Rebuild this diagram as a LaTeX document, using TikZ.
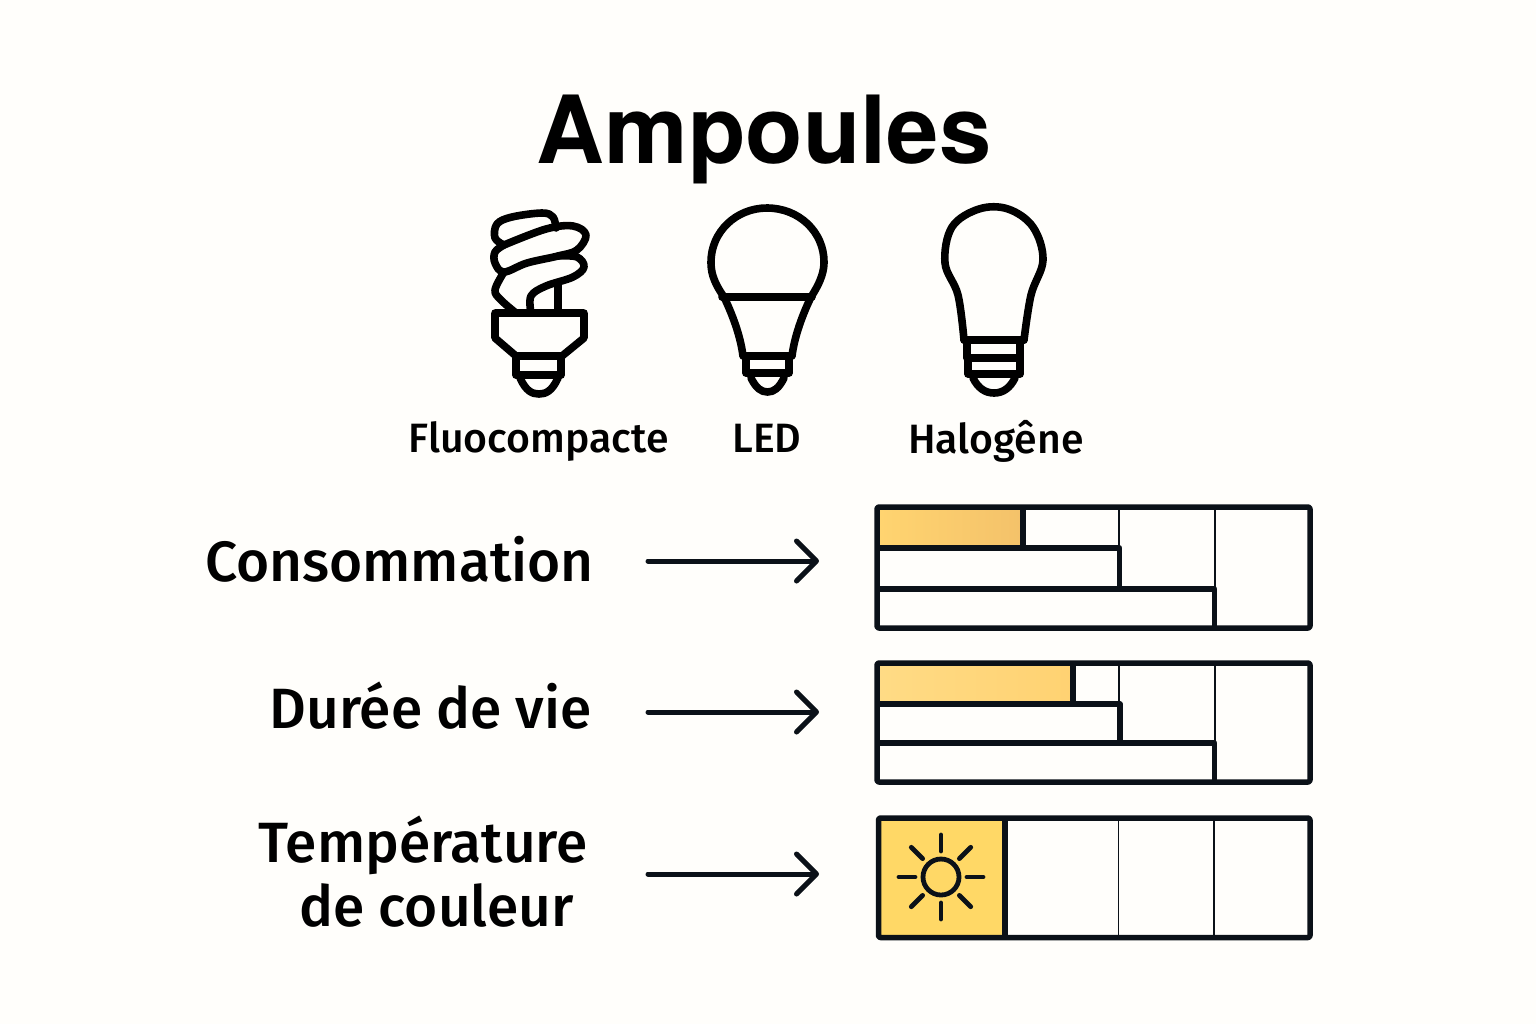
\documentclass[tikz,border=0pt]{standalone}
\usepackage{fontspec}
\setmainfont{TeX Gyre Heros}
\newfontfamily\medfont{Fira Sans Medium}
\usetikzlibrary{arrows.meta}
\definecolor{ink}{HTML}{0B1118}
\definecolor{paper}{HTML}{FFFEFB}
\definecolor{sunfill}{HTML}{FFD866}
\definecolor{amberA}{HTML}{FFD470}
\definecolor{amberB}{HTML}{F4C26A}
\definecolor{amberC}{HTML}{FFDB85}
\definecolor{amberD}{HTML}{FFD272}

\tikzset{
  icon/.style={draw=black, line width=3.8pt, line cap=round, line join=round},
  ray/.style={draw=ink, line width=2.4pt, line cap=round},
  frame/.style={draw=ink, line width=2.75pt, line join=round},
  thin line/.style={draw=ink, line width=0.9pt},
  bulbname/.style={font=\medfont\fontsize{20.5}{22}\selectfont, anchor=base, inner sep=0pt},
  rowname/.style={font=\medfont\fontsize{28.4}{30}\selectfont, anchor=base east, inner sep=0pt},
  pointer/.style={draw=ink, line width=2.5pt, line cap=round, -{Straight Barb[length=10pt,width=20pt,round]}}
}

\begin{document}
\begin{tikzpicture}[x=0.5pt,y=-0.5pt]
  \useasboundingbox[fill=paper] (0,0) rectangle (1536,1024);

  \node[font=\bfseries\fontsize{47}{56}\selectfont, anchor=base] (title) at (764,163) {Ampoules};

  % fluocompacte
  \draw[icon] plot[smooth,tension=.6] coordinates {(556,228) (553,217) (542,213) (512,217) (497,224) (495,238) (504,245)};
  \draw[icon] plot[smooth,tension=.6] coordinates {(504,245) (546,229) (573,226) (586,235) (577,250) (558,256) (527,263) (504,272) (495,263) (495,252) (504,245)};
  \draw[icon] plot[smooth,tension=.6] coordinates {(558,256) (577,257) (584,267) (573,277) (546,286) (531,296) (531,313)};
  \draw[icon] plot[smooth,tension=.6] coordinates {(504,272) (495,290) (501,300) (516,313)};
  \draw[icon] (558,285) -- (558,313);
  \draw[icon] (495,313) -- (584,313) -- (584,338) -- (562,356) -- (516,356) -- (495,338) -- cycle;
  \draw[icon] (516,356) -- (516,375) -- (561,375) -- (561,356);
  \draw[icon] (520,378) .. controls (526,391) and (532,394) .. (539,394) .. controls (546,394) and (552,391) .. (558,378);

  % led
  \draw[icon] (724,297) .. controls (712,280) and (711,270) .. (711,262) .. controls (711,232) and (736,208) .. (767,208)
    .. controls (799,208) and (824,232) .. (824,262) .. controls (824,270) and (822,280) .. (811,297);
  \draw[icon] (722,297) -- (812,297);
  \draw[icon] (724,297) .. controls (735,320) and (741,340) .. (743,356) -- (792,356) .. controls (794,340) and (800,320) .. (811,297);
  \draw[icon] (746,356) -- (746,373) -- (789,373) -- (789,356);
  \draw[icon] (751,378) .. controls (756,388) and (761,392) .. (767.5,392) .. controls (774,392) and (779,388) .. (784,378);

  % halogene
  \draw[icon] plot[smooth,tension=.6] coordinates {(964,340) (958,295) (945,263) (952,227) (979,209) (1008,209) (1033,227) (1043,260) (1031,295) (1024,340)};
  \draw[icon] (964,340) -- (1024,340);
  \draw[icon] (967,340) -- (967,358) -- (1020,358) -- (1020,340);
  \draw[icon] (968,358) -- (968,374) -- (1020,374) -- (1020,358);
  \draw[icon] (973,378) .. controls (978,388) and (985,393) .. (994,393) .. controls (1003,393) and (1010,388) .. (1015,378);

  \node[bulbname] (fluo) at (538.5,452) {Fluocompacte};
  \node[bulbname] (led)  at (767,452)   {LED};
  \node[bulbname] (halo) at (996,453)   {Halogêne};

  \node[rowname] (conso) at (594,581) {Consommation};
  \node[rowname] (duree) at (592,728) {Durée de vie};
  \node[rowname] (temp)  at (588,862) {Température};
  \node[rowname] (coul)  at (574,926) {de couleur};

  \coordinate (from1) at (648,561);
  \coordinate (to1)   at (819,561);
  \coordinate (from2) at (648,712);
  \coordinate (to2)   at (819,712);
  \coordinate (from3) at (648,874);
  \coordinate (to3)   at (819,874);
  \foreach \k in {1,2,3}
    \draw[pointer] (from\k) -- (to\k);

  % consommation
  \fill[left color=amberA, right color=amberB] (880,510) rectangle (1020,545);
  \draw[thin line] (1119,507) -- (1119,547) (1215,507) -- (1215,589);
  \draw[frame, rounded corners=1pt] (877,507) rectangle (1310,628);
  \draw[frame] (1023,507) -- (1023,548) (877,548) -- (1119.5,548) -- (1119.5,589) (877,589) -- (1214.5,589) -- (1214.5,628);

  % duree de vie
  \fill[left color=amberC, right color=amberD] (880,666) rectangle (1071,701);
  \draw[thin line] (1119,663) -- (1119,704) (1215,663) -- (1215,743);
  \draw[frame, rounded corners=1pt] (877,663) rectangle (1310,782);
  \draw[frame] (1073,663) -- (1073,704) (877,704) -- (1120,704) -- (1120,743) (877,743) -- (1214.5,743) -- (1214.5,782);

  % temperature de couleur
  \fill[sunfill] (881,821) rectangle (1003,935);
  \draw[thin line] (1118.5,818) -- (1118.5,937) (1214,818) -- (1214,937);
  \draw[frame, rounded corners=1pt] (878.5,818) rectangle (1310,937.5);
  \draw[frame] (1005,818) -- (1005,937);
  \draw[ray] (941,877) circle [radius=9pt];
  \foreach \a in {0,45,...,315}
    \draw[ray] (941,877) ++(\a:13pt) -- ++(\a:8pt);
\end{tikzpicture}
\end{document}
